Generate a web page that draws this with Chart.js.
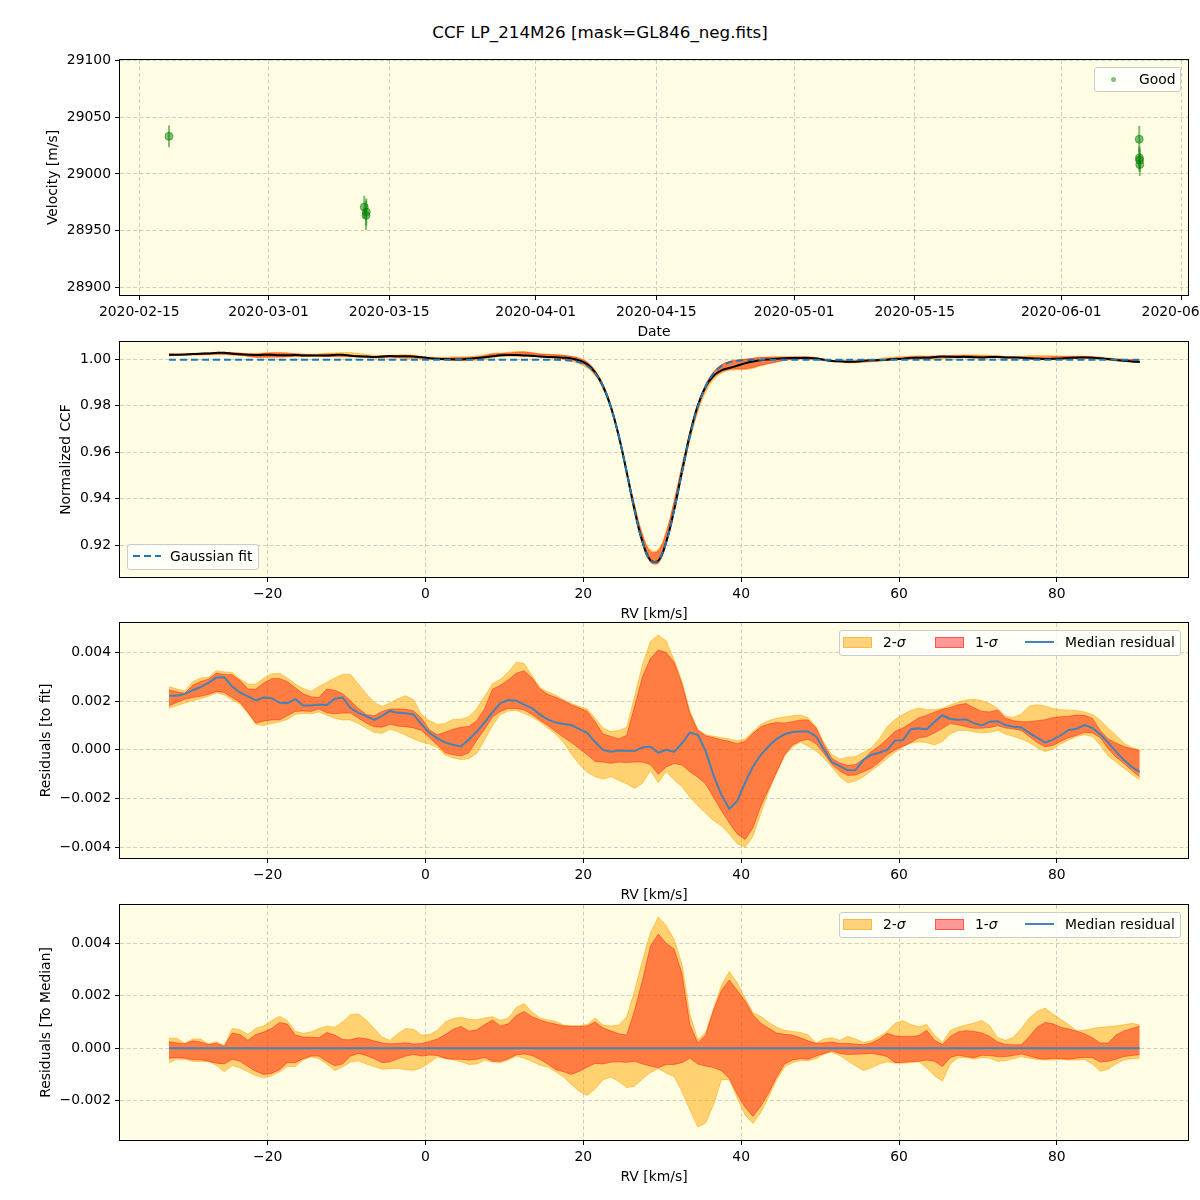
<!DOCTYPE html>
<html>
<head>
<meta charset="utf-8">
<title>CCF LP_214M26</title>
<script src="https://cdn.jsdelivr.net/npm/chart.js@4.4.1/dist/chart.umd.min.js"></script>
<style>
  html, body { margin: 0; padding: 0; background: #fff; }
  #fig { position: relative; width: 1200px; height: 1200px; overflow: hidden; font-family: 'DejaVu Sans', sans-serif; color: #000; }
  #fig canvas { position: absolute; left: 0; }
  .title { position: absolute; left: 0; top: 22px; width: 1200px; text-align: center; font-size: 16.7px; line-height: 20px; }
  .legend { position: absolute; box-sizing: border-box; background: rgba(255,255,255,0.8); border: 1px solid #cccccc; border-radius: 3px; font-size: 13.9px; z-index: 5; }
  .legend .txt { position: absolute; top: 0; line-height: 23px; white-space: nowrap; }
  .legend .patch { position: absolute; top: 6px; width: 27px; height: 9px; border: 1px solid; }
  .legend .dot { position: absolute; width: 5px; height: 5px; border-radius: 50%; background: rgba(0,128,0,0.5); }
  .legend svg { position: absolute; }
</style>
</head>
<body>
<div id="fig">
  <div class="title">CCF LP_214M26 [mask=GL846_neg.fits]</div>
  <canvas id="c-vel" width="1200" height="301"></canvas>
  <canvas id="c-ccf" width="1200" height="301"></canvas>
  <canvas id="c-fit" width="1200" height="301"></canvas>
  <canvas id="c-med" width="1200" height="301"></canvas>

  <div class="legend" style="left:1094px;top:67px;width:87px;height:25px">
    <span class="dot" style="left:16px;top:9px"></span>
    <span class="txt" style="left:44px">Good</span>
  </div>
  <div class="legend" style="left:127px;top:544px;width:132px;height:26px">
    <svg style="left:5px;top:5px" width="30" height="12"><line x1="0" y1="6" x2="28" y2="6" stroke="#1f77b4" stroke-width="2" stroke-dasharray="7,4"/></svg>
    <span class="txt" style="left:42px">Gaussian fit</span>
  </div>
  <div class="legend" style="left:839px;top:630px;width:342px;height:26px">
    <span class="patch" style="left:3px;background:rgba(255,165,0,0.5);border-color:rgba(255,165,0,0.5)"></span>
    <span class="txt" style="left:43px">2-<i>σ</i></span>
    <span class="patch" style="left:95px;background:rgba(255,0,0,0.4);border-color:rgba(255,0,0,0.45)"></span>
    <span class="txt" style="left:135px">1-<i>σ</i></span>
    <svg style="left:185px;top:5px" width="30" height="12"><line x1="0" y1="6" x2="29" y2="6" stroke="steelblue" stroke-width="2"/></svg>
    <span class="txt" style="left:225px">Median residual</span>
  </div>
  <div class="legend" style="left:839px;top:912px;width:342px;height:26px">
    <span class="patch" style="left:3px;background:rgba(255,165,0,0.5);border-color:rgba(255,165,0,0.5)"></span>
    <span class="txt" style="left:43px">2-<i>σ</i></span>
    <span class="patch" style="left:95px;background:rgba(255,0,0,0.4);border-color:rgba(255,0,0,0.45)"></span>
    <span class="txt" style="left:135px">1-<i>σ</i></span>
    <svg style="left:185px;top:5px" width="30" height="12"><line x1="0" y1="6" x2="29" y2="6" stroke="steelblue" stroke-width="2"/></svg>
    <span class="txt" style="left:225px">Median residual</span>
  </div>
</div>

<script>
/* ---- velocity panel data ---- */
const obsTimes = ['2020-02-18T10:35', '2020-03-12T02:30', '2020-03-12T08:20', '2020-03-12T07:10',
                  '2020-06-10T01:00', '2020-06-10T01:30', '2020-06-10T02:00', '2020-06-10T02:30']
const velocity = [29033.2, 28970.8, 28966.4, 28963.5, 29030.7, 29014.2, 29012.1, 29008.3]
const velocityErr = [9.6, 10, 12, 13, 11.8, 10, 10, 10.1]
const dateTicks = ['2020-02-15', '2020-03-01', '2020-03-15', '2020-04-01', '2020-04-15',
                   '2020-05-01', '2020-05-15', '2020-06-01', '2020-06-15']
const velTicks = [28900, 28950, 29000, 29050, 29100]

/* ---- RV grid (km/s) ---- */
const rv = [
  -32.5, -31.5, -30.5, -29.5, -28.5, -27.5, -26.5, -25.5, -24.5, -23.5,
  -22.5, -21.5, -20.5, -19.5, -18.5, -17.5, -16.5, -15.5, -14.5, -13.5,
  -12.5, -11.5, -10.5, -9.5, -8.5, -7.5, -6.5, -5.5, -4.5, -3.5,
  -2.5, -1.5, -0.5, 0.5, 1.5, 2.5, 3.5, 4.5, 5.5, 6.5,
  7.5, 8.5, 9.5, 10.5, 11.5, 12.5, 13.5, 14.5, 15.5, 16.5,
  17.5, 18.5, 19.5, 20.5, 21.5, 22.5, 23.5, 24.5, 25.5, 26.5,
  27.5, 28.5, 29.5, 30.5, 31.5, 32.5, 33.5, 34.5, 35.5, 36.5,
  37.5, 38.5, 39.5, 40.5, 41.5, 42.5, 43.5, 44.5, 45.5, 46.5,
  47.5, 48.5, 49.5, 50.5, 51.5, 52.5, 53.5, 54.5, 55.5, 56.5,
  57.5, 58.5, 59.5, 60.5, 61.5, 62.5, 63.5, 64.5, 65.5, 66.5,
  67.5, 68.5, 69.5, 70.5, 71.5, 72.5, 73.5, 74.5, 75.5, 76.5,
  77.5, 78.5, 79.5, 80.5, 81.5, 82.5, 83.5, 84.5, 85.5, 86.5,
  87.5, 88.5, 89.5, 90.5
]
const rvTicks = [-20, 0, 20, 40, 60, 80]

/* Gaussian fit to the CCF */
const gaussFit = [
  0.9998, 0.9998, 0.9998, 0.9998, 0.9998, 0.9998, 0.9998, 0.9998, 0.9998, 0.9998,
  0.9998, 0.9998, 0.9998, 0.9998, 0.9998, 0.9998, 0.9998, 0.9998, 0.9998, 0.9998,
  0.9998, 0.9998, 0.9998, 0.9998, 0.9998, 0.9998, 0.9998, 0.9998, 0.9998, 0.9998,
  0.9998, 0.9998, 0.9998, 0.9998, 0.9998, 0.9998, 0.9998, 0.9998, 0.9998, 0.9998,
  0.9998, 0.9998, 0.9998, 0.9998, 0.9998, 0.9998, 0.9998, 0.9998, 0.9998, 0.9998,
  0.99965, 0.99937, 0.99868, 0.99712, 0.99400, 0.98843, 0.97950, 0.96693, 0.95144, 0.93522,
  0.92147, 0.91355, 0.91355, 0.92147, 0.93522, 0.95144, 0.96693, 0.97950, 0.98843, 0.99400,
  0.99712, 0.99868, 0.99937, 0.99965, 0.99975, 0.9998, 0.9998, 0.9998, 0.9998, 0.9998,
  0.9998, 0.9998, 0.9998, 0.9998, 0.9998, 0.9998, 0.9998, 0.9998, 0.9998, 0.9998,
  0.9998, 0.9998, 0.9998, 0.9998, 0.9998, 0.9998, 0.9998, 0.9998, 0.9998, 0.9998,
  0.9998, 0.9998, 0.9998, 0.9998, 0.9998, 0.9998, 0.9998, 0.9998, 0.9998, 0.9998,
  0.9998, 0.9998, 0.9998, 0.9998, 0.9998, 0.9998, 0.9998, 0.9998, 0.9998, 0.9998,
  0.9998, 0.9998, 0.9998, 0.9998
]
const ccfTicks = [0.92, 0.94, 0.96, 0.98, 1.00]

/* residuals to fit, units of 1e-3 */
const fitMedian = [
  2.22, 2.22, 2.30, 2.45, 2.58, 2.75, 2.97, 2.98, 2.60, 2.35,
  2.20, 2.03, 2.15, 2.12, 1.93, 1.92, 2.08, 1.82, 1.82, 1.86,
  1.84, 2.10, 2.15, 1.72, 1.52, 1.38, 1.23, 1.40, 1.60, 1.52,
  1.50, 1.45, 1.05, 0.70, 0.47, 0.30, 0.21, 0.14, 0.43, 0.75,
  1.13, 1.55, 1.92, 2.05, 2.02, 1.86, 1.72, 1.45, 1.25, 1.12,
  1.06, 1.02, 0.85, 0.70, 0.32, 0.00, -0.08, -0.03, -0.04, -0.05,
  0.10, 0.14, -0.12, 0.00, -0.08, 0.27, 0.71, 0.62, -0.05, -1.05,
  -1.85, -2.42, -2.10, -1.35, -0.68, -0.20, 0.16, 0.45, 0.64, 0.73,
  0.75, 0.75, 0.55, 0.00, -0.50, -0.67, -0.84, -0.83, -0.41, -0.20,
  -0.12, 0.00, 0.38, 0.40, 0.85, 0.89, 0.84, 1.15, 1.42, 1.27,
  1.24, 1.25, 1.10, 1.00, 1.16, 1.18, 1.02, 0.95, 0.92, 0.70,
  0.50, 0.30, 0.42, 0.60, 0.82, 0.87, 1.02, 0.90, 0.64, 0.30,
  -0.07, -0.42, -0.70, -0.90
]
const fitHi1 = [
  2.47, 2.38, 2.33, 2.65, 2.81, 2.90, 3.15, 3.10, 3.08, 2.85,
  2.50, 2.50, 2.75, 2.92, 2.93, 2.80, 2.55, 2.30, 2.18, 2.15,
  2.50, 2.45, 2.30, 2.02, 1.70, 1.45, 1.40, 1.58, 1.68, 1.68,
  1.67, 1.60, 1.30, 0.82, 0.62, 0.72, 0.85, 0.93, 0.96, 1.20,
  1.70, 2.50, 2.65, 2.88, 3.15, 3.25, 2.95, 2.50, 2.28, 2.16,
  2.02, 1.85, 1.72, 1.58, 1.15, 0.65, 0.55, 0.45, 0.60, 1.80,
  3.00, 3.75, 4.10, 4.00, 3.60, 2.70, 1.50, 0.80, 0.58, 0.50,
  0.42, 0.35, 0.25, 0.35, 0.68, 0.95, 1.06, 1.12, 1.10, 1.15,
  1.23, 1.23, 0.90, 0.20, -0.35, -0.54, -0.64, -0.60, -0.38, -0.07,
  0.16, 0.45, 0.76, 0.90, 1.10, 1.32, 1.42, 1.55, 1.67, 1.74,
  1.85, 1.90, 1.73, 1.58, 1.56, 1.64, 1.30, 1.20, 1.16, 1.16,
  1.20, 1.24, 1.32, 1.36, 1.38, 1.43, 1.42, 1.30, 0.80, 0.45,
  0.28, 0.14, 0.05, -0.03
]
const fitLo1 = [
  1.81, 1.95, 2.08, 2.15, 2.20, 2.28, 2.40, 2.36, 2.15, 1.95,
  1.55, 1.10, 1.18, 1.23, 1.23, 1.40, 1.58, 1.60, 1.58, 1.68,
  1.52, 1.48, 1.51, 1.51, 1.30, 1.10, 0.95, 0.93, 1.05, 0.98,
  0.95, 0.90, 0.80, 0.50, 0.20, -0.12, -0.20, -0.25, -0.12, 0.40,
  0.85, 1.35, 1.58, 1.70, 1.70, 1.64, 1.45, 1.22, 1.00, 0.75,
  0.52, 0.30, 0.05, -0.20, -0.48, -0.50, -0.55, -0.50, -0.52, -0.50,
  -0.50, -0.60, -1.00, -0.70, -0.56, -0.62, -0.90, -1.12, -1.40, -1.95,
  -2.50, -3.00, -3.45, -3.68, -3.20, -2.30, -1.60, -0.90, -0.20, 0.20,
  0.36, 0.44, 0.25, -0.15, -0.60, -0.87, -1.05, -1.03, -0.90, -0.75,
  -0.50, -0.20, 0.00, 0.15, 0.30, 0.50, 0.54, 0.70, 0.88, 1.08,
  1.03, 0.95, 0.89, 0.89, 0.92, 0.99, 0.90, 0.86, 0.80, 0.55,
  0.30, 0.13, 0.18, 0.35, 0.50, 0.60, 0.72, 0.70, 0.50, 0.05,
  -0.30, -0.55, -0.85, -1.10
]
const fitHi2 = [
  2.60, 2.50, 2.42, 2.80, 2.95, 2.98, 3.25, 3.20, 3.18, 2.90,
  2.70, 2.70, 2.95, 3.12, 3.15, 2.95, 2.70, 2.52, 2.40, 2.60,
  2.78, 2.95, 3.10, 3.10, 2.70, 2.30, 1.95, 1.78, 1.93, 2.10,
  2.22, 2.05, 1.45, 1.20, 1.05, 1.08, 1.25, 1.26, 1.36, 1.70,
  2.20, 2.72, 2.90, 3.20, 3.60, 3.55, 3.05, 2.55, 2.38, 2.25,
  2.05, 1.90, 1.78, 1.68, 1.30, 0.90, 0.75, 0.80, 0.92, 2.20,
  3.50, 4.45, 4.72, 4.47, 3.70, 2.80, 1.60, 0.85, 0.62, 0.56,
  0.50, 0.45, 0.37, 0.45, 0.75, 1.05, 1.20, 1.30, 1.35, 1.40,
  1.43, 1.32, 0.95, 0.28, -0.20, -0.38, -0.30, -0.27, -0.10, 0.10,
  0.45, 0.95, 1.25, 1.45, 1.62, 1.72, 1.65, 1.65, 1.70, 1.84,
  1.97, 2.05, 2.08, 2.02, 1.90, 1.70, 1.38, 1.33, 1.47, 1.80,
  1.85, 1.80, 1.70, 1.65, 1.63, 1.62, 1.56, 1.45, 1.22, 0.90,
  0.60, 0.27, 0.10, 0.00
]
const fitLo2 = [
  1.71, 1.82, 1.92, 2.02, 2.10, 2.20, 2.34, 2.26, 2.05, 1.88,
  1.50, 1.05, 1.00, 1.08, 1.15, 1.25, 1.45, 1.50, 1.48, 1.56,
  1.42, 1.30, 1.23, 1.23, 1.08, 0.90, 0.72, 0.68, 0.85, 0.75,
  0.60, 0.45, 0.32, 0.24, 0.10, -0.22, -0.32, -0.40, -0.36, -0.15,
  0.42, 1.00, 1.45, 1.60, 1.62, 1.50, 1.35, 1.15, 0.90, 0.64,
  0.30, -0.18, -0.60, -0.92, -1.10, -1.20, -1.10, -1.25, -1.40, -1.58,
  -1.37, -0.85, -1.35, -0.90, -1.23, -1.50, -1.95, -2.28, -2.60, -2.90,
  -3.12, -3.45, -3.85, -4.00, -3.55, -2.60, -1.70, -0.95, -0.25, 0.12,
  0.32, 0.15, -0.05, -0.35, -0.70, -1.10, -1.35, -1.28, -1.10, -0.85,
  -0.62, -0.35, -0.10, 0.12, 0.28, 0.33, 0.30, 0.20, 0.35, 0.65,
  0.80, 0.80, 0.74, 0.70, 0.72, 0.80, 0.65, 0.55, 0.45, 0.30,
  0.10, -0.07, 0.03, 0.25, 0.40, 0.55, 0.62, 0.55, 0.20, -0.25,
  -0.50, -0.75, -1.00, -1.23
]
const fitTicks = [-0.004, -0.002, 0, 0.002, 0.004]

/* residuals to median, units of 1e-3 */
const medMedian = [
  0, 0, 0, 0, 0, 0, 0, 0, 0, 0,
  0, 0, 0, 0, 0, 0, 0, 0, 0, 0,
  0, 0, 0, 0, 0, 0, 0, 0, 0, 0,
  0, 0, 0, 0, 0, 0, 0, 0, 0, 0,
  0, 0, 0, 0, 0, 0, 0, 0, 0, 0,
  0, 0, 0, 0, 0, 0, 0, 0, 0, 0,
  0, 0, 0, 0, 0, 0, 0, 0, 0, 0,
  0, 0, 0, 0, 0, 0, 0, 0, 0, 0,
  0, 0, 0, 0, 0, 0, 0, 0, 0, 0,
  0, 0, 0, 0, 0, 0, 0, 0, 0, 0,
  0, 0, 0, 0, 0, 0, 0, 0, 0, 0,
  0, 0, 0, 0, 0, 0, 0, 0, 0, 0,
  0, 0, 0, 0
]
const medHi1 = [
  0.25, 0.20, 0.17, 0.28, 0.24, 0.14, 0.19, 0.07, 0.58, 0.52,
  0.30, 0.52, 0.62, 0.75, 0.98, 0.92, 0.50, 0.43, 0.42, 0.40,
  0.60, 0.50, 0.33, 0.32, 0.40, 0.36, 0.28, 0.20, 0.17, 0.18,
  0.21, 0.16, 0.18, 0.26, 0.35, 0.52, 0.72, 0.83, 0.65, 0.70,
  0.90, 1.08, 0.85, 0.93, 1.25, 1.40, 1.20, 1.08, 0.98, 0.92,
  0.85, 0.83, 0.83, 0.85, 1.00, 0.78, 0.66, 0.55, 0.50, 1.45,
  2.60, 3.90, 4.35, 4.00, 3.78, 2.85, 0.90, 0.20, 0.50, 1.45,
  2.20, 2.60, 2.20, 1.80, 1.27, 0.95, 0.76, 0.58, 0.53, 0.50,
  0.40, 0.28, 0.18, 0.20, 0.24, 0.18, 0.18, 0.16, 0.13, 0.20,
  0.35, 0.57, 0.47, 0.45, 0.45, 0.48, 0.68, 0.30, 0.14, 0.45,
  0.62, 0.67, 0.64, 0.58, 0.45, 0.24, 0.14, 0.13, 0.13, 0.45,
  0.80, 0.98, 0.93, 0.80, 0.73, 0.66, 0.55, 0.40, 0.20, 0.20,
  0.50, 0.66, 0.75, 0.85
]
const medLo1 = [
  -0.38, -0.36, -0.38, -0.44, -0.44, -0.50, -0.57, -0.60, -0.42, -0.50,
  -0.70, -0.88, -1.00, -0.96, -0.82, -0.55, -0.55, -0.40, -0.30, -0.30,
  -0.50, -0.67, -0.60, -0.30, -0.20, -0.28, -0.40, -0.55, -0.52, -0.40,
  -0.30, -0.24, -0.30, -0.26, -0.28, -0.38, -0.42, -0.42, -0.45, -0.42,
  -0.35, -0.50, -0.50, -0.40, -0.25, -0.22, -0.28, -0.42, -0.60, -0.82,
  -0.90, -1.00, -0.88, -0.72, -0.58, -0.60, -0.53, -0.52, -0.54, -0.50,
  -0.60, -0.68, -0.75, -0.62, -0.62, -0.55, -0.38, -0.60, -0.68, -0.74,
  -0.85, -1.15, -1.75, -2.25, -2.60, -2.20, -1.70, -1.10, -0.60, -0.45,
  -0.40, -0.42, -0.30, -0.20, -0.10, -0.20, -0.24, -0.23, -0.22, -0.20,
  -0.25, -0.32, -0.55, -0.54, -0.51, -0.50, -0.45, -0.50, -0.70, -0.35,
  -0.27, -0.32, -0.36, -0.27, -0.28, -0.32, -0.32, -0.28, -0.22, -0.30,
  -0.38, -0.42, -0.38, -0.40, -0.42, -0.38, -0.35, -0.36, -0.53, -0.50,
  -0.42, -0.32, -0.28, -0.25
]
const medHi2 = [
  0.38, 0.38, 0.18, 0.35, 0.35, 0.17, 0.25, 0.10, 0.75, 0.70,
  0.52, 0.76, 0.85, 1.05, 1.22, 1.05, 0.64, 0.57, 0.62, 0.75,
  0.84, 0.80, 1.00, 1.28, 1.30, 1.08, 0.75, 0.42, 0.30, 0.55,
  0.75, 0.72, 0.50, 0.52, 0.68, 1.00, 1.13, 1.18, 1.10, 1.08,
  1.15, 1.20, 1.06, 1.15, 1.55, 1.70, 1.38, 1.15, 1.08, 1.02,
  0.88, 0.86, 0.86, 0.90, 1.15, 0.88, 0.85, 0.88, 1.20, 2.20,
  3.35, 4.40, 5.00, 4.68, 4.15, 3.20, 1.30, 0.32, 0.60, 1.50,
  2.40, 2.92, 2.50, 1.90, 1.35, 1.21, 0.98, 0.80, 0.68, 0.64,
  0.60, 0.50, 0.20, 0.35, 0.40, 0.30, 0.45, 0.35, 0.22, 0.28,
  0.45, 0.64, 0.95, 1.05, 0.90, 0.82, 0.90, 0.50, 0.22, 0.68,
  0.80, 0.88, 0.96, 1.06, 0.85, 0.40, 0.30, 0.42, 0.75, 1.15,
  1.40, 1.53, 1.30, 1.10, 0.90, 0.66, 0.68, 0.75, 0.80, 0.82,
  0.85, 0.89, 0.95, 0.89
]
const medLo2 = [
  -0.55, -0.42, -0.42, -0.50, -0.51, -0.51, -0.65, -0.90, -0.66, -0.75,
  -0.90, -1.05, -1.13, -1.05, -0.90, -0.70, -0.70, -0.45, -0.33, -0.40,
  -0.60, -0.85, -0.72, -0.53, -0.48, -0.60, -0.70, -0.80, -0.78, -0.77,
  -0.82, -0.84, -0.75, -0.55, -0.33, -0.40, -0.44, -0.52, -0.62, -0.60,
  -0.46, -0.52, -0.55, -0.45, -0.30, -0.38, -0.50, -0.65, -0.72, -0.90,
  -1.10, -1.38, -1.65, -1.80, -1.55, -1.20, -1.10, -1.27, -1.50, -1.45,
  -1.17, -0.93, -0.78, -0.95, -1.08, -1.65, -2.35, -3.00, -2.85, -2.15,
  -1.20, -1.20, -1.90, -2.55, -2.87, -2.45, -1.85, -1.20, -0.72, -0.55,
  -0.47, -0.48, -0.40, -0.22, -0.15, -0.28, -0.48, -0.68, -0.85, -0.75,
  -0.60, -0.52, -0.56, -0.57, -0.55, -0.51, -0.75, -1.05, -1.25, -0.60,
  -0.36, -0.35, -0.42, -0.35, -0.38, -0.50, -0.48, -0.40, -0.32, -0.38,
  -0.43, -0.45, -0.45, -0.42, -0.45, -0.45, -0.43, -0.60, -0.88, -0.80,
  -0.60, -0.45, -0.40, -0.38
]
const medTicks = [-0.002, 0, 0.002, 0.004]

/* ---- styles ---- */
const PLOT_BG = '#fefce3'
const GRID = 'rgba(160,160,160,0.5)'
const SIG2 = 'rgba(255,165,0,0.5)'
const SIG1 = 'rgba(255,0,0,0.4)'
const MED = 'steelblue'
const GOOD = 'rgba(0,128,0,0.5)'
const PLOT_L = 120, PLOT_R = 1188, PAD_TOP = 20, XAXIS_H = 46

Chart.defaults.font.family = "'DejaVu Sans', sans-serif"
Chart.defaults.font.size = 13.9
Chart.defaults.color = '#000'

const dayOf = s => (Date.parse(s.length === 10 ? s + 'T00:00Z' : s + 'Z') - Date.parse('2020-01-01T00:00Z')) / 86400000
const minus = s => s.replace('-', '\u2212')
const fixed = d => v => minus(v.toFixed(d))

/* yellow plot background and black frame */
const frame = {
  id: 'frame',
  beforeDraw(chart) {
    const { ctx, chartArea: a } = chart
    ctx.save()
    ctx.fillStyle = PLOT_BG
    ctx.fillRect(a.left, a.top, a.right - a.left, a.bottom - a.top)
    ctx.restore()
  },
  afterDraw(chart) {
    const { ctx, chartArea: a } = chart
    ctx.save()
    ctx.strokeStyle = '#000'
    ctx.lineWidth = 1
    ctx.strokeRect(a.left - 0.5, a.top - 0.5, a.right - a.left + 1, a.bottom - a.top + 1)
    ctx.restore()
  }
}

function axis(min, max, ticks, label, title, vertical, titlePad) {
  return {
    type: 'linear', min, max,
    afterBuildTicks: s => { s.ticks = ticks.map(v => ({ value: v })) },
    afterFit: s => {
      if (vertical) { s.width = PLOT_L; s.paddingTop = 0; s.paddingBottom = 0 }
      else { s.height = XAXIS_H; s.paddingLeft = 0; s.paddingRight = 0 }
    },
    ticks: { callback: label, padding: 4, maxRotation: 0, minRotation: 0, autoSkip: false, color: '#000' },
    grid: { color: GRID, lineWidth: 1, tickColor: '#000', tickLength: 5, tickWidth: 1, tickBorderDash: [] },
    border: { display: false, dash: [4, 2.5] },
    title: { display: true, text: title, color: '#000',
             padding: vertical ? { top: titlePad, bottom: 0 } : { top: 0, bottom: 0 } }
  }
}

function panel(id, plotTop, type, datasets, x, y) {
  const cv = document.getElementById(id)
  cv.style.top = (plotTop - PAD_TOP) + 'px'
  return new Chart(cv, {
    type,
    data: { datasets },
    options: {
      responsive: false, animation: false, events: [],
      layout: { padding: { top: PAD_TOP, right: 1200 - PLOT_R, left: 0, bottom: 0 } },
      plugins: { legend: { display: false }, tooltip: { enabled: false } },
      scales: { x, y }
    },
    plugins: [frame]
  })
}

function bands(toXY, hi2, lo2, hi1, lo1, tension) {
  const base = { pointRadius: 0, borderWidth: 1, tension }
  return [
    { ...base, data: toXY(hi2), fill: '+1', backgroundColor: SIG2, borderColor: SIG2, order: 6 },
    { ...base, data: toXY(lo2), fill: false, borderColor: SIG2, order: 5 },
    { ...base, data: toXY(hi1), fill: '+1', backgroundColor: SIG1, borderColor: SIG1, order: 4 },
    { ...base, data: toXY(lo1), fill: false, borderColor: SIG1, order: 3 }
  ]
}

const milli = arr => rv.map((x, i) => ({ x, y: arr[i] / 1000 }))
const onFit = arr => rv.map((x, i) => ({ x, y: gaussFit[i] + arr[i] / 1000 }))
const rvLabel = v => minus(String(v))

/* ---- 1: velocities ---- */
const obsDay = obsTimes.map(dayOf)
const tickDays = dateTicks.map(dayOf)
const errorBars = obsDay.map((x, i) => ({
  data: [{ x, y: velocity[i] - velocityErr[i] }, { x, y: velocity[i] + velocityErr[i] }],
  showLine: true, borderColor: GOOD, borderWidth: 2, pointRadius: 0, order: 2
}))
const goodPoints = {
  data: obsDay.map((x, i) => ({ x, y: velocity[i] })),
  pointRadius: 4, borderWidth: 1, backgroundColor: GOOD, borderColor: GOOD, order: 1
}
panel('c-vel', 60, 'scatter', [...errorBars, goodPoints],
  axis(42.76, 166.70, tickDays, (v, i) => dateTicks[i], 'Date', false),
  axis(28893.2, 29100.6, velTicks, v => String(v), 'Velocity [m/s]', true, 45))

/* ---- 2: CCF ---- */
panel('c-ccf', 342, 'line', [
  ...bands(onFit, fitHi2, fitLo2, fitHi1, fitLo1, 0.4),
  { data: onFit(fitMedian), borderColor: '#000', borderWidth: 2, pointRadius: 0, tension: 0.4, order: 1 },
  { data: rv.map((x, i) => ({ x, y: gaussFit[i] })), borderColor: '#1f77b4', borderWidth: 2,
    borderDash: [7, 4], pointRadius: 0, tension: 0.4, order: 0 }
],
  axis(-38.71, 96.62, rvTicks, rvLabel, 'RV [km/s]', false),
  axis(0.90639, 1.00745, ccfTicks, fixed(2), 'Normalized CCF', true, 58))

/* ---- 3: residuals to fit ---- */
panel('c-fit', 623, 'line', [
  ...bands(milli, fitHi2, fitLo2, fitHi1, fitLo1, 0),
  { data: milli(fitMedian), borderColor: MED, borderWidth: 2, pointRadius: 0, tension: 0, order: 1 }
],
  axis(-38.71, 96.62, rvTicks, rvLabel, 'RV [km/s]', false),
  axis(-0.00444, 0.00521, fitTicks, fixed(3), 'Residuals [to fit]', true, 38))

/* ---- 4: residuals to median ---- */
panel('c-med', 905, 'line', [
  ...bands(milli, medHi2, medLo2, medHi1, medLo1, 0),
  { data: milli(medMedian), borderColor: MED, borderWidth: 2, pointRadius: 0, tension: 0, order: 1 }
],
  axis(-38.71, 96.62, rvTicks, rvLabel, 'RV [km/s]', false),
  axis(-0.00350, 0.00546, medTicks, fixed(3), 'Residuals [To Median]', true, 38))
</script>
</body>
</html>
